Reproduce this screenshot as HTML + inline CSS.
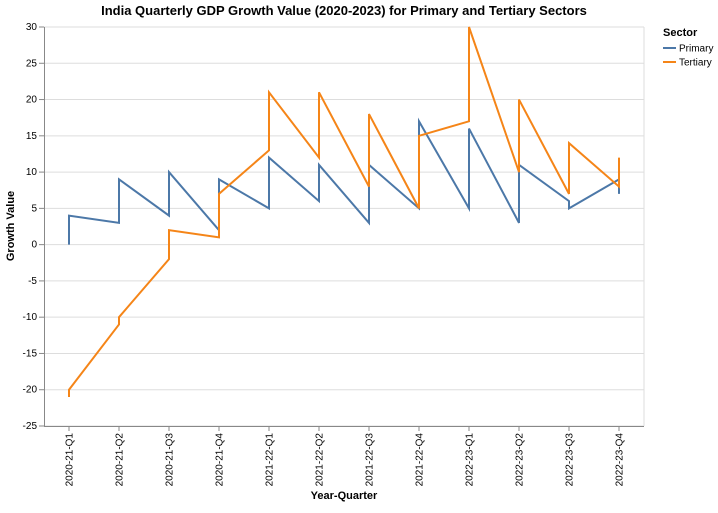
<!DOCTYPE html>
<html><head><meta charset="utf-8"><style>
body{margin:0;background:#fff;font-family:"Liberation Sans",Arial,sans-serif}
svg text{font-family:"Liberation Sans",Arial,sans-serif}
</style></head><body>
<svg id="chart" width="718" height="508" xmlns="http://www.w3.org/2000/svg">
<text x="344" y="15" text-anchor="middle" font-size="13" font-weight="bold" fill="#000">India Quarterly GDP Growth Value (2020-2023) for Primary and Tertiary Sectors</text>
<g id="grid"></g>
<g id="xaxis"></g>
<g id="yaxis"></g>
<g id="lines"></g>
<text x="344" y="499" text-anchor="middle" font-size="11" font-weight="bold">Year-Quarter</text>
<text transform="translate(14,226) rotate(-90)" text-anchor="middle" font-size="11" font-weight="bold">Growth Value</text>
<g>
<text x="663" y="36" font-size="11" font-weight="bold">Sector</text>
<g><line x1="663" y1="48" x2="676" y2="48" stroke="#4c78a8" stroke-width="2"/><text x="679" y="51.5" font-size="10">Primary</text></g>
<g><line x1="663" y1="62" x2="676" y2="62" stroke="#f58518" stroke-width="2"/><text x="679" y="65.5" font-size="10">Tertiary</text></g>
</g>
</svg>
<script>
const categories=["2020-21-Q1","2020-21-Q2","2020-21-Q3","2020-21-Q4","2021-22-Q1","2021-22-Q2","2021-22-Q3","2021-22-Q4","2022-23-Q1","2022-23-Q2","2022-23-Q3","2022-23-Q4"];
const primaryFirst=[0,3,4,2,5,6,3,5,5,3,6,9];
const primarySecond=[4,9,10,9,12,11,11,17,16,11,5,7];
const tertiaryFirst=[-21,-11,-2,1,13,12,8,5,17,10,7,8];
const tertiarySecond=[-20,-10,2,7,21,21,18,15,30,20,14,12];
const yTicks=[-25,-20,-15,-10,-5,0,5,10,15,20,25,30];
const NS="http://www.w3.org/2000/svg";
const L=44,R=644,T=27,B=426,yMin=-25,yMax=30;
const step=(R-L)/categories.length;
function x(i){return L+step*(i+0.5);}
function y(v){return B-(v-yMin)/(yMax-yMin)*(B-T);}
function mk(tag,attrs,parent){const e=document.createElementNS(NS,tag);for(const k in attrs)e.setAttribute(k,attrs[k]);parent.appendChild(e);return e;}
const grid=document.getElementById('grid'),xa=document.getElementById('xaxis'),ya=document.getElementById('yaxis'),lines=document.getElementById('lines');
yTicks.forEach(v=>{
 const g=mk('line',{x1:L,x2:R,y1:y(v),y2:y(v),stroke:'#ddd','stroke-width':1},grid);
 
 
 mk('line',{x1:L-5,x2:L,y1:y(v),y2:y(v),stroke:'#888'},ya);
 const t=mk('text',{x:L-7,y:y(v)+3,'text-anchor':'end','font-size':10},ya);
 t.textContent=v;
 
 
});
mk('line',{x1:L+0.5,x2:L+0.5,y1:T,y2:B,stroke:'#888'},ya);
mk('line',{x1:R,x2:R,y1:T,y2:B,stroke:'#ddd'},grid);
mk('line',{x1:L,x2:R,y1:B+0.5,y2:B+0.5,stroke:'#888'},xa);
categories.forEach((c,i)=>{
 mk('line',{x1:x(i),x2:x(i),y1:B,y2:B+5,stroke:'#888'},xa);
 const t=mk('text',{transform:`translate(${x(i)+3.5},${B+7}) rotate(-90)`,'text-anchor':'end','font-size':10},xa);
 t.textContent=c;
 
 
});
function series(a,b,color,name){
 let d='';
 categories.forEach((c,i)=>{d+=(i?'L':'M')+x(i)+','+y(a[i])+'L'+x(i)+','+y(b[i]);});
 const p=mk('path',{d:d,fill:'none',stroke:color,'stroke-width':2},lines);
 
 
}
series(primaryFirst,primarySecond,'#4c78a8','primary-line');
series(tertiaryFirst,tertiarySecond,'#f58518','tertiary-line');
</script>
</body></html>
